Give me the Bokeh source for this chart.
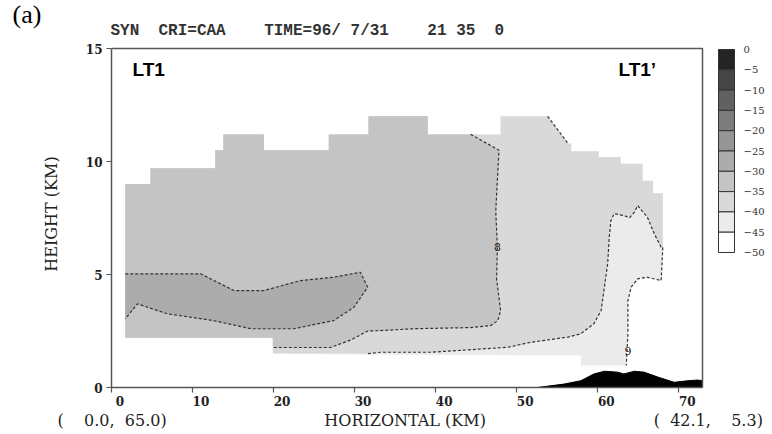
from bokeh.plotting import figure
from bokeh.models import (ColumnDataSource, LinearColorMapper, FixedTicker, Label, Title, Range1d)
from bokeh.core.properties import value
from bokeh.embed import file_html
from bokeh.resources import INLINE

# ---------------- data ----------------
x_ticks = [0, 10, 20, 30, 40, 50, 60, 70]
x_tick_labels = ["0", "10", "20", "30", "40", "50", "60", "70"]
y_ticks = [0, 5, 10, 15]
X_END = 72.9
Y_END = 15

cbar_ticks = [0, -5, -10, -15, -20, -25, -30, -35, -40, -45, -50]
cbar_labels = ["0", "\u22125", "\u221210", "\u221215", "\u221220", "\u221225",
               "\u221230", "\u221235", "\u221240", "\u221245", "\u221250"]
palette = ["#ffffff", "#ebebeb", "#d9d9d9", "#c4c4c4", "#acacac",
           "#959595", "#7c7c7c", "#616161", "#454545", "#242424"]

header_text = "SYN  CRI=CAA    TIME=96/ 7/31    21 35  0"
start_label = "(    0.0,  65.0)"
axis_title = "HORIZONTAL (KM)"
end_label = "(  42.1,    5.3)"

# stepped echo top (left part)
top_x = [1.7, 1.7, 4.8, 4.8, 12.8, 12.8, 13.8, 13.8, 18.8, 18.8, 26.8, 26.8, 31.7, 31.7, 39.0, 39.0, 44.3]
top_h = [2.2, 9.0, 9.0, 9.7, 9.7, 10.5, 10.5, 11.2, 11.2, 10.5, 10.5, 11.2, 11.2, 12.0, 12.0, 11.2, 11.2]
# stepped echo top (right part)
ext_x = [48.0, 48.0, 53.8, 56.3, 56.7, 56.7, 60.1, 60.1, 62.8, 62.8, 65.5, 65.5, 66.8, 66.8, 68.0, 68.0]
ext_h = [11.2, 12.0, 12.0, 10.8, 10.8, 10.45, 10.45, 10.2, 10.2, 9.9, 9.9, 9.15, 9.15, 8.6, 8.6, 6.2]

# contour "8" (boundary of main grey area)
c8_x = [44.3, 47.8, 47.6, 47.4, 47.6, 47.5, 48.0, 47.65, 46.8, 44.3, 37.3, 33.2, 31.6, 29.5, 27.0, 19.9]
c8_h = [11.2, 10.5, 9.2, 7.8, 6.2, 4.8, 3.4, 2.96, 2.74, 2.65, 2.6, 2.52, 2.5, 2.1, 1.77, 1.77]

# contour "9" (upper branch)
c9_x = [67.8, 66.95, 66.1, 64.9, 64.5, 63.9, 63.2, 62.0, 61.6, 61.4, 61.2, 60.8, 60.4, 59.5, 57.9,
        56.3, 51.7, 48.9, 39.4, 33.2, 31.6]
c9_h = [6.21, 6.8, 7.54, 8.05, 7.76, 7.51, 7.61, 7.69, 7.39, 6.65, 5.47, 4.44, 3.41, 2.82, 2.38,
        2.23, 2.0, 1.78, 1.56, 1.56, 1.5]

# contour "9" (lower branch)
c9b_x = [68.0, 67.8, 66.1, 64.9, 64.1, 63.7, 63.7, 63.5]
c9b_h = [6.2, 4.73, 4.88, 4.81, 4.44, 3.85, 2.39, 0.97]

# outer echo bottom
bottom_x = [57.9, 57.9, 33.0, 19.9, 19.9]
bottom_h = [0.97, 1.42, 1.45, 1.5, 2.2]

# enhanced core band
dark_x = [1.7, 11.0, 15.1, 18.8, 23.3, 27.4, 30.7, 31.6, 29.9, 27.4, 22.5, 17.2, 12.6, 6.9, 3.2, 1.7]
dark_h = [5.03, 5.03, 4.29, 4.29, 4.73, 4.88, 5.10, 4.44, 3.55, 2.96, 2.60, 2.60, 2.96, 3.26, 3.70, 3.04]

# terrain
terrain_x = [52.5, 55.8, 57.9, 59.5, 60.8, 62.4, 63.2, 64.5, 65.7, 67.4, 69.4, 71.1, 72.3, 72.9, 72.9]
terrain_h = [0.0, 0.15, 0.30, 0.60, 0.72, 0.68, 0.60, 0.72, 0.68, 0.46, 0.23, 0.30, 0.33, 0.30, 0.0]

region_levels = [-42.5, -37.5, -32.5, -27.5]

# ---------------- layout ----------------
W, H = 772, 434
FL, FR, FT, FB = 111, 702, 48, 387   # plot box in page pixels
FRAME_R, FRAME_T = 770, 40           # drawing frame extends over the colour bar
CB_L, CB_R, CB_T, CB_B = 718, 734, 49, 252
CB_LABEL_X = 743


def dx(px):
    return X_END * (px - FL) / (FR - FL)


def dy(py):
    return Y_END * (FB - py) / (FB - FT)


# ---------------- polygons ----------------
outer_xs = top_x + ext_x + c9b_x[1:] + bottom_x
outer_ys = top_h + ext_h + c9b_h[1:] + bottom_h
light_xs = top_x + ext_x + c9_x + [19.9, 19.9]
light_ys = top_h + ext_h + c9_h + [1.5, 2.2]
main_xs = top_x + c8_x[1:] + [19.9]
main_ys = top_h + c8_h[1:] + [2.2]

mapper = LinearColorMapper(palette=palette, low=-50, high=0)

p = figure(width=W, height=H, x_range=Range1d(0, dx(FRAME_R)), y_range=Range1d(0, dy(FRAME_T)),
           output_backend="svg", toolbar_location=None,
           min_border_left=FL, min_border_right=W - FRAME_R,
           min_border_top=FRAME_T, min_border_bottom=H - FB)
p.background_fill_color = "white"
p.border_fill_color = "white"
p.grid.visible = False
p.outline_line_color = None

src = ColumnDataSource(dict(xs=[outer_xs, light_xs, main_xs, dark_x],
                            ys=[outer_ys, light_ys, main_ys, dark_h],
                            level=region_levels))
p.patches("xs", "ys", source=src, fill_color={"field": "level", "transform": mapper},
          line_color=None)

p.patch(terrain_x, terrain_h, fill_color="black", line_color="black", line_width=1)

p.multi_line([dark_x, c8_x, c9_x, c9b_x, ext_x[2:4]],
             [dark_h, c8_h, c9_h, c9b_h, ext_h[2:4]],
             line_color="#333333", line_width=1.2, line_dash="3 2")

p.text(x=[c8_x[4], c9b_x[6]], y=[c8_h[4], 1.6], text=["8", "9"],
       text_font=value("DejaVu Serif"), text_font_size="11px", text_color="#222222",
       text_align="center", text_baseline="middle")

# top and right sides of the plot box
p.line([0, X_END, X_END], [Y_END, Y_END, 0], line_color="#555555", line_width=1.5)

# axes
p.xaxis.ticker = FixedTicker(ticks=x_ticks)
p.yaxis.ticker = FixedTicker(ticks=y_ticks)
p.xaxis.bounds = (0, X_END)
p.yaxis.bounds = (0, Y_END)
for ax in (p.xaxis[0], p.yaxis[0]):
    ax.axis_line_color = "#555555"
    ax.axis_line_width = 1.5
    ax.major_tick_line_color = "#555555"
    ax.major_tick_line_width = 1.2
    ax.major_tick_out = 5
    ax.major_tick_in = 0
    ax.minor_tick_line_color = None
    ax.major_label_text_font = "DejaVu Serif"
    ax.major_label_text_font_style = "bold"
    ax.major_label_text_font_size = "12px"
    ax.major_label_text_color = "#222222"
    ax.axis_label_text_font = "DejaVu Serif"
    ax.axis_label_text_font_style = "normal"
    ax.axis_label_text_font_size = "16px"
    ax.axis_label_text_color = "#222222"

p.xaxis.major_label_overrides = {t: "\u2007\u2007" + s for t, s in zip(x_ticks, x_tick_labels)}
p.xaxis.major_label_standoff = 2

p.yaxis.major_label_standoff = 4
p.yaxis.axis_label = "HEIGHT (KM)"
p.yaxis.axis_label_standoff = 22

NB = "\u00a0"
bottom_line = (start_label.replace(" ", NB) + NB * 31 + axis_title.replace(" ", NB)
               + NB * 33 + end_label.replace(" ", NB))
p.add_layout(Title(text=bottom_line, align="left", offset=57 - FL, text_font="DejaVu Serif",
                   text_font_style="normal", text_font_size="16px", text_color="#222222",
                   standoff=-5), "below")

# "(a)" as the outer title, the run header just above the plot box
p.title.text = "(a)"
p.title.align = "left"
p.title.offset = 12 - FL
p.title.text_font = "Liberation Serif"
p.title.text_font_style = "normal"
p.title.text_font_size = "26px"
p.title.text_color = "black"
p.title.standoff = -21
p.add_layout(Title(text=header_text.replace(" ", NB), align="left", offset=-1,
                   text_font="Liberation Mono", text_font_style="bold", text_font_size="16px",
                   text_color="#333333", standoff=2), "above")

p.add_layout(Label(x=dx(132), y=dy(69), text="LT1", text_font="Liberation Sans",
                   text_font_style="bold", text_font_size="19px", text_color="black",
                   text_align="left", text_baseline="middle"))
p.add_layout(Label(x=dx(618), y=dy(69), text="LT1\u2019", text_font="Liberation Sans",
                   text_font_style="bold", text_font_size="19px", text_color="black",
                   text_align="left", text_baseline="middle"))

# ---------------- colour bar (own value range, right of the plot box) ----------------
per_px = (cbar_ticks[0] - cbar_ticks[-1]) / (CB_B - CB_T)
p.extra_y_ranges = {"cbar": Range1d(cbar_ticks[-1] - (FB - CB_B) * per_px,
                                    cbar_ticks[0] + (CB_T - FRAME_T) * per_px)}
cb_low = cbar_ticks[1:]
cb_high = cbar_ticks[:-1]
cb_colors = [palette[int((lo + 50) // 5)] for lo in cb_low]
p.quad(left=dx(CB_L), right=dx(CB_R), bottom=cb_low, top=cb_high, fill_color=cb_colors,
       line_color="#333333", line_width=1, y_range_name="cbar")
p.text(x=dx(CB_LABEL_X), y=cbar_ticks, text=cbar_labels, y_range_name="cbar",
       text_font=value("DejaVu Serif"), text_font_size="10px", text_color="#333333",
       text_align="left", text_baseline="middle")

open("out.html", "w").write(file_html(p, INLINE))
